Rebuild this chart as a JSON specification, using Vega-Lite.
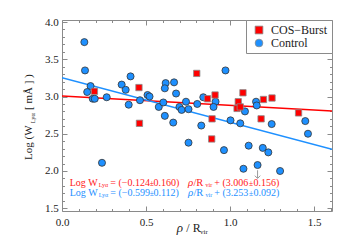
{
  "$schema": "https://vega.github.io/schema/vega-lite/v6.json",
  "width": 270,
  "height": 191,
  "autosize": {"type": "none"},
  "padding": {"left": 62, "top": 20, "right": 13, "bottom": 39},
  "background": "white",
  "config": {
    "view": {"stroke": "#8a8a8a", "strokeWidth": 1},
    "axis": {"labelFont": "Liberation Serif", "labelFontSize": 11, "labelColor": "#222", "tickColor": "#8a8a8a", "tickWidth": 1, "domain": false, "grid": false, "labelFlush": false, "labelOverlap": false, "labelBound": false, "title": null},
    "legend": {"labelFont": "Liberation Serif"},
    "text": {"font": "Liberation Serif", "align": "left", "baseline": "alphabetic"}
  },
  "datasets": {
    "obs": [
      {"group": "Control", "rho": 0.133, "logW": 3.73},
      {"group": "Control", "rho": 0.137, "logW": 3.35},
      {"group": "Control", "rho": 0.170, "logW": 3.14},
      {"group": "Control", "rho": 0.150, "logW": 3.06},
      {"group": "Control", "rho": 0.183, "logW": 2.97},
      {"group": "Control", "rho": 0.195, "logW": 2.97},
      {"group": "Control", "rho": 0.266, "logW": 2.99},
      {"group": "Control", "rho": 0.355, "logW": 3.16},
      {"group": "Control", "rho": 0.379, "logW": 3.09},
      {"group": "Control", "rho": 0.408, "logW": 3.27},
      {"group": "Control", "rho": 0.397, "logW": 2.89},
      {"group": "Control", "rho": 0.464, "logW": 2.95},
      {"group": "Control", "rho": 0.509, "logW": 3.02},
      {"group": "Control", "rho": 0.521, "logW": 3.00},
      {"group": "Control", "rho": 0.576, "logW": 2.86},
      {"group": "Control", "rho": 0.603, "logW": 2.92},
      {"group": "Control", "rho": 0.612, "logW": 2.74},
      {"group": "Control", "rho": 0.617, "logW": 3.18},
      {"group": "Control", "rho": 0.612, "logW": 3.11},
      {"group": "Control", "rho": 0.667, "logW": 3.19},
      {"group": "Control", "rho": 0.679, "logW": 3.04},
      {"group": "Control", "rho": 0.662, "logW": 2.65},
      {"group": "Control", "rho": 0.699, "logW": 2.86},
      {"group": "Control", "rho": 0.712, "logW": 2.82},
      {"group": "Control", "rho": 0.738, "logW": 2.93},
      {"group": "Control", "rho": 0.753, "logW": 2.83},
      {"group": "Control", "rho": 0.805, "logW": 2.90},
      {"group": "Control", "rho": 0.841, "logW": 2.99},
      {"group": "Control", "rho": 0.914, "logW": 2.93},
      {"group": "Control", "rho": 0.902, "logW": 2.86},
      {"group": "Control", "rho": 0.973, "logW": 3.35},
      {"group": "Control", "rho": 1.089, "logW": 2.80},
      {"group": "Control", "rho": 1.155, "logW": 2.93},
      {"group": "Control", "rho": 1.159, "logW": 2.88},
      {"group": "Control", "rho": 1.003, "logW": 2.68},
      {"group": "Control", "rho": 1.061, "logW": 2.64},
      {"group": "Control", "rho": 1.248, "logW": 2.63},
      {"group": "Control", "rho": 0.829, "logW": 2.61},
      {"group": "Control", "rho": 1.448, "logW": 2.67},
      {"group": "Control", "rho": 1.464, "logW": 2.50},
      {"group": "Control", "rho": 0.753, "logW": 2.38},
      {"group": "Control", "rho": 0.964, "logW": 2.28},
      {"group": "Control", "rho": 1.111, "logW": 2.34},
      {"group": "Control", "rho": 1.195, "logW": 2.31},
      {"group": "Control", "rho": 1.228, "logW": 2.25},
      {"group": "Control", "rho": 1.080, "logW": 2.03},
      {"group": "Control", "rho": 1.164, "logW": 2.08},
      {"group": "Control", "rho": 1.298, "logW": 2.00},
      {"group": "Control", "rho": 0.238, "logW": 2.11},
      {"group": "COS−Burst", "rho": 0.193, "logW": 3.07},
      {"group": "COS−Burst", "rho": 0.458, "logW": 3.12},
      {"group": "COS−Burst", "rho": 0.461, "logW": 2.64},
      {"group": "COS−Burst", "rho": 0.802, "logW": 3.31},
      {"group": "COS−Burst", "rho": 0.866, "logW": 2.97},
      {"group": "COS−Burst", "rho": 0.911, "logW": 3.02},
      {"group": "COS−Burst", "rho": 0.893, "logW": 2.70},
      {"group": "COS−Burst", "rho": 0.891, "logW": 2.43},
      {"group": "COS−Burst", "rho": 1.077, "logW": 3.05},
      {"group": "COS−Burst", "rho": 1.049, "logW": 2.93},
      {"group": "COS−Burst", "rho": 1.042, "logW": 2.84},
      {"group": "COS−Burst", "rho": 1.061, "logW": 2.86},
      {"group": "COS−Burst", "rho": 1.199, "logW": 2.96},
      {"group": "COS−Burst", "rho": 1.250, "logW": 2.98},
      {"group": "COS−Burst", "rho": 1.185, "logW": 2.70},
      {"group": "COS−Burst", "rho": 1.408, "logW": 2.78}
    ],
    "fits": [
      {"fit": "COS−Burst", "rho": 0, "logW": 3.006},
      {"fit": "COS−Burst", "rho": 1.607, "logW": 2.807},
      {"fit": "Control", "rho": 0, "logW": 3.253},
      {"fit": "Control", "rho": 1.607, "logW": 2.290}
    ],
    "one": [{}]
  },
  "resolve": {"axis": {"x": "independent", "y": "independent"}},
  "layer": [
    {
      "layer": [
        {
          "data": {"name": "fits"},
          "mark": {"type": "line", "strokeWidth": 1.5, "clip": true},
          "encoding": {
            "x": {"field": "rho", "type": "quantitative"},
            "y": {"field": "logW", "type": "quantitative"},
            "detail": {"field": "fit"},
            "stroke": {"condition": {"test": "datum.fit === 'Control'", "value": "#1e90ff"}, "value": "#ff0000"}
          }
        },
        {
          "data": {"name": "obs"},
          "mark": {"type": "point", "filled": true, "opacity": 1, "strokeWidth": 0.8},
          "encoding": {
            "x": {"field": "rho", "type": "quantitative",
              "scale": {"domain": [0, 1.607], "nice": false, "zero": false},
              "axis": {"orient": "bottom", "values": [0, 0.5, 1.0, 1.5], "format": ".1f", "tickSize": -5, "labelPadding": 10.5, "labelOverlap": false}},
            "y": {"field": "logW", "type": "quantitative",
              "scale": {"domain": [1.463, 4.027], "nice": false, "zero": false},
              "axis": {"orient": "left", "values": [1.5, 2.5, 3.5], "format": ".1f", "tickSize": -5, "labelPadding": 8.7, "labelOverlap": false}},
            "color": {"field": "group", "type": "nominal", "scale": {"domain": ["COS−Burst", "Control"], "range": ["#ff0000", "#1e90ff"]},
              "legend": {"title": null, "orient": "top-right", "offset": 0, "fillColor": "white", "strokeColor": "#8a8a8a", "padding": 4, "rowPadding": 1, "labelFontSize": 12, "labelColor": "#222", "labelOffset": 6, "symbolOffset": 3, "symbolSize": 60, "symbolStrokeWidth": 0.8}},
            "shape": {"field": "group", "type": "nominal", "scale": {"domain": ["COS−Burst", "Control"], "range": ["square", "circle"]}},
            "size": {"condition": {"test": "datum.group === 'Control'", "value": 50}, "value": 40},
            "stroke": {"condition": {"test": "datum.group === 'Control'", "value": "#333333"}, "value": "#8a8a8a"}
          }
        },
        {
          "data": {"name": "one"},
          "mark": {"type": "rule", "color": "#9a9a9a", "strokeWidth": 1},
          "encoding": {
            "x": {"datum": 1.164, "type": "quantitative"},
            "y": {"datum": 2.01, "type": "quantitative"},
            "y2": {"datum": 1.905}
          }
        },
        {
          "data": {"name": "one"},
          "mark": {"type": "point", "shape": "M -1 -0.6 L 0 0.4 L 1 -0.6", "filled": false, "stroke": "#9a9a9a", "strokeWidth": 1, "size": 30, "opacity": 1},
          "encoding": {
            "x": {"datum": 1.164, "type": "quantitative"},
            "y": {"datum": 1.915, "type": "quantitative"}
          }
        },
        {"data": {"name": "one"}, "mark": {"type": "text", "text": "Log W", "fontSize": 10, "color": "#ff1a1a"},
         "encoding": {"x": {"datum": 0.046, "type": "quantitative"}, "y": {"datum": 1.803, "type": "quantitative"}}},
        {"data": {"name": "one"}, "mark": {"type": "text", "text": "Lyα", "fontSize": 6, "color": "#ff1a1a"},
         "encoding": {"x": {"datum": 0.218, "type": "quantitative"}, "y": {"datum": 1.781, "type": "quantitative"}}},
        {"data": {"name": "one"}, "mark": {"type": "text", "text": "= (−0.124", "fontSize": 10, "color": "#ff1a1a"},
         "encoding": {"x": {"datum": 0.2875, "type": "quantitative"}, "y": {"datum": 1.803, "type": "quantitative"}}},
        {"data": {"name": "one"}, "mark": {"type": "text", "text": "±", "fontSize": 7.5, "color": "#ff1a1a"},
         "encoding": {"x": {"datum": 0.522, "type": "quantitative"}, "y": {"datum": 1.803, "type": "quantitative"}}},
        {"data": {"name": "one"}, "mark": {"type": "text", "text": "0.160)", "fontSize": 10, "color": "#ff1a1a"},
         "encoding": {"x": {"datum": 0.544, "type": "quantitative"}, "y": {"datum": 1.803, "type": "quantitative"}}},
        {"data": {"name": "one"}, "mark": {"type": "text", "text": "ρ", "fontSize": 11, "fontStyle": "italic", "color": "#ff1a1a"},
         "encoding": {"x": {"datum": 0.75, "type": "quantitative"}, "y": {"datum": 1.803, "type": "quantitative"}}},
        {"data": {"name": "one"}, "mark": {"type": "text", "text": "/R", "fontSize": 10.5, "color": "#ff1a1a"},
         "encoding": {"x": {"datum": 0.782, "type": "quantitative"}, "y": {"datum": 1.803, "type": "quantitative"}}},
        {"data": {"name": "one"}, "mark": {"type": "text", "text": "vir", "fontSize": 6, "color": "#ff1a1a"},
         "encoding": {"x": {"datum": 0.854, "type": "quantitative"}, "y": {"datum": 1.781, "type": "quantitative"}}},
        {"data": {"name": "one"}, "mark": {"type": "text", "text": "+ (3.006", "fontSize": 10, "color": "#ff1a1a"},
         "encoding": {"x": {"datum": 0.9065, "type": "quantitative"}, "y": {"datum": 1.803, "type": "quantitative"}}},
        {"data": {"name": "one"}, "mark": {"type": "text", "text": "±", "fontSize": 7.5, "color": "#ff1a1a"},
         "encoding": {"x": {"datum": 1.1125, "type": "quantitative"}, "y": {"datum": 1.803, "type": "quantitative"}}},
        {"data": {"name": "one"}, "mark": {"type": "text", "text": "0.156)", "fontSize": 10, "color": "#ff1a1a"},
         "encoding": {"x": {"datum": 1.140, "type": "quantitative"}, "y": {"datum": 1.803, "type": "quantitative"}}},
        {"data": {"name": "one"}, "mark": {"type": "text", "text": "Log W", "fontSize": 10, "color": "#1e90ff"},
         "encoding": {"x": {"datum": 0.046, "type": "quantitative"}, "y": {"datum": 1.668, "type": "quantitative"}}},
        {"data": {"name": "one"}, "mark": {"type": "text", "text": "Lyα", "fontSize": 6, "color": "#1e90ff"},
         "encoding": {"x": {"datum": 0.218, "type": "quantitative"}, "y": {"datum": 1.646, "type": "quantitative"}}},
        {"data": {"name": "one"}, "mark": {"type": "text", "text": "= (−0.599", "fontSize": 10, "color": "#1e90ff"},
         "encoding": {"x": {"datum": 0.2875, "type": "quantitative"}, "y": {"datum": 1.668, "type": "quantitative"}}},
        {"data": {"name": "one"}, "mark": {"type": "text", "text": "±", "fontSize": 7.5, "color": "#1e90ff"},
         "encoding": {"x": {"datum": 0.522, "type": "quantitative"}, "y": {"datum": 1.668, "type": "quantitative"}}},
        {"data": {"name": "one"}, "mark": {"type": "text", "text": "0.112)", "fontSize": 10, "color": "#1e90ff"},
         "encoding": {"x": {"datum": 0.544, "type": "quantitative"}, "y": {"datum": 1.668, "type": "quantitative"}}},
        {"data": {"name": "one"}, "mark": {"type": "text", "text": "ρ", "fontSize": 11, "fontStyle": "italic", "color": "#1e90ff"},
         "encoding": {"x": {"datum": 0.75, "type": "quantitative"}, "y": {"datum": 1.668, "type": "quantitative"}}},
        {"data": {"name": "one"}, "mark": {"type": "text", "text": "/R", "fontSize": 10.5, "color": "#1e90ff"},
         "encoding": {"x": {"datum": 0.782, "type": "quantitative"}, "y": {"datum": 1.668, "type": "quantitative"}}},
        {"data": {"name": "one"}, "mark": {"type": "text", "text": "vir", "fontSize": 6, "color": "#1e90ff"},
         "encoding": {"x": {"datum": 0.854, "type": "quantitative"}, "y": {"datum": 1.646, "type": "quantitative"}}},
        {"data": {"name": "one"}, "mark": {"type": "text", "text": "+ (3.253", "fontSize": 10, "color": "#1e90ff"},
         "encoding": {"x": {"datum": 0.9065, "type": "quantitative"}, "y": {"datum": 1.668, "type": "quantitative"}}},
        {"data": {"name": "one"}, "mark": {"type": "text", "text": "±", "fontSize": 7.5, "color": "#1e90ff"},
         "encoding": {"x": {"datum": 1.1125, "type": "quantitative"}, "y": {"datum": 1.668, "type": "quantitative"}}},
        {"data": {"name": "one"}, "mark": {"type": "text", "text": "0.092)", "fontSize": 10, "color": "#1e90ff"},
         "encoding": {"x": {"datum": 1.140, "type": "quantitative"}, "y": {"datum": 1.668, "type": "quantitative"}}},
        {"data": {"name": "one"}, "mark": {"type": "text", "text": "ρ", "fontSize": 13, "fontStyle": "italic", "color": "#222"},
         "encoding": {"x": {"datum": 0.683, "type": "quantitative"}, "y": {"datum": 1.185, "type": "quantitative"}}},
        {"data": {"name": "one"}, "mark": {"type": "text", "text": "/ R", "fontSize": 12, "color": "#222"},
         "encoding": {"x": {"datum": 0.740, "type": "quantitative"}, "y": {"datum": 1.185, "type": "quantitative"}}},
        {"data": {"name": "one"}, "mark": {"type": "text", "text": "vir", "fontSize": 7, "color": "#222"},
         "encoding": {"x": {"datum": 0.821, "type": "quantitative"}, "y": {"datum": 1.154, "type": "quantitative"}}},
        {"data": {"name": "one"}, "mark": {"type": "text", "text": "Log (W", "angle": 270, "fontSize": 11, "color": "#222"},
         "encoding": {"x": {"datum": -0.180, "type": "quantitative"}, "y": {"datum": 2.148, "type": "quantitative"}}},
        {"data": {"name": "one"}, "mark": {"type": "text", "text": "Lyα", "angle": 270, "fontSize": 6.5, "color": "#222"},
         "encoding": {"x": {"datum": -0.160, "type": "quantitative"}, "y": {"datum": 2.640, "type": "quantitative"}}},
        {"data": {"name": "one"}, "mark": {"type": "text", "text": "[ mÅ ] )", "angle": 270, "fontSize": 11, "color": "#222"},
         "encoding": {"x": {"datum": -0.180, "type": "quantitative"}, "y": {"datum": 2.819, "type": "quantitative"}}}
      ]
    },
    {
      "data": {"name": "fits"},
      "mark": {"type": "line", "opacity": 0},
      "encoding": {
        "x": {"field": "rho", "type": "quantitative",
          "axis": {"orient": "bottom", "labels": false, "tickSize": -2.5,
            "values": [0.1, 0.2, 0.3, 0.4, 0.6, 0.7, 0.8, 0.9, 1.1, 1.2, 1.3, 1.4, 1.6]}},
        "y": {"field": "logW", "type": "quantitative",
          "axis": {"orient": "left", "labels": false, "tickSize": -2.5,
            "values": [1.6, 1.7, 1.8, 1.9, 2.1, 2.2, 2.3, 2.4, 2.6, 2.7, 2.8, 2.9, 3.1, 3.2, 3.3, 3.4, 3.6, 3.7, 3.8, 3.9]}},
        "detail": {"field": "fit"}
      }
    },
    {
      "data": {"name": "fits"},
      "mark": {"type": "line", "opacity": 0},
      "encoding": {
        "x": {"field": "rho", "type": "quantitative",
          "axis": {"orient": "top", "labels": false, "tickSize": -5, "values": [0, 0.5, 1.0, 1.5]}},
        "y": {"field": "logW", "type": "quantitative",
          "axis": {"orient": "right", "labels": false, "tickSize": -5, "values": [1.5, 2.0, 2.5, 3.0, 3.5, 4.0]}},
        "detail": {"field": "fit"}
      }
    },
    {
      "data": {"name": "fits"},
      "mark": {"type": "line", "opacity": 0},
      "encoding": {
        "x": {"field": "rho", "type": "quantitative",
          "axis": {"orient": "top", "labels": false, "tickSize": -2.5,
            "values": [0.1, 0.2, 0.3, 0.4, 0.6, 0.7, 0.8, 0.9, 1.1, 1.2, 1.3, 1.4, 1.6]}},
        "y": {"field": "logW", "type": "quantitative",
          "axis": {"orient": "right", "labels": false, "tickSize": -2.5,
            "values": [1.6, 1.7, 1.8, 1.9, 2.1, 2.2, 2.3, 2.4, 2.6, 2.7, 2.8, 2.9, 3.1, 3.2, 3.3, 3.4, 3.6, 3.7, 3.8, 3.9]}},
        "detail": {"field": "fit"}
      }
    },
    {
      "data": {"name": "fits"},
      "mark": {"type": "line", "opacity": 0},
      "encoding": {
        "x": {"field": "rho", "type": "quantitative", "axis": null},
        "y": {"field": "logW", "type": "quantitative",
          "axis": {"orient": "left", "tickSize": -5, "values": [2.0, 3.0], "format": ".1f", "labelPadding": 8.7, "labelOverlap": false}},
        "detail": {"field": "fit"}
      }
    },
    {
      "data": {"name": "fits"},
      "mark": {"type": "line", "opacity": 0},
      "encoding": {
        "x": {"field": "rho", "type": "quantitative", "axis": null},
        "y": {"field": "logW", "type": "quantitative",
          "axis": {"orient": "left", "tickSize": -5, "values": [4.0], "format": ".1f", "labelPadding": 8.7, "labelOverlap": false}},
        "detail": {"field": "fit"}
      }
    }
  ]
}
